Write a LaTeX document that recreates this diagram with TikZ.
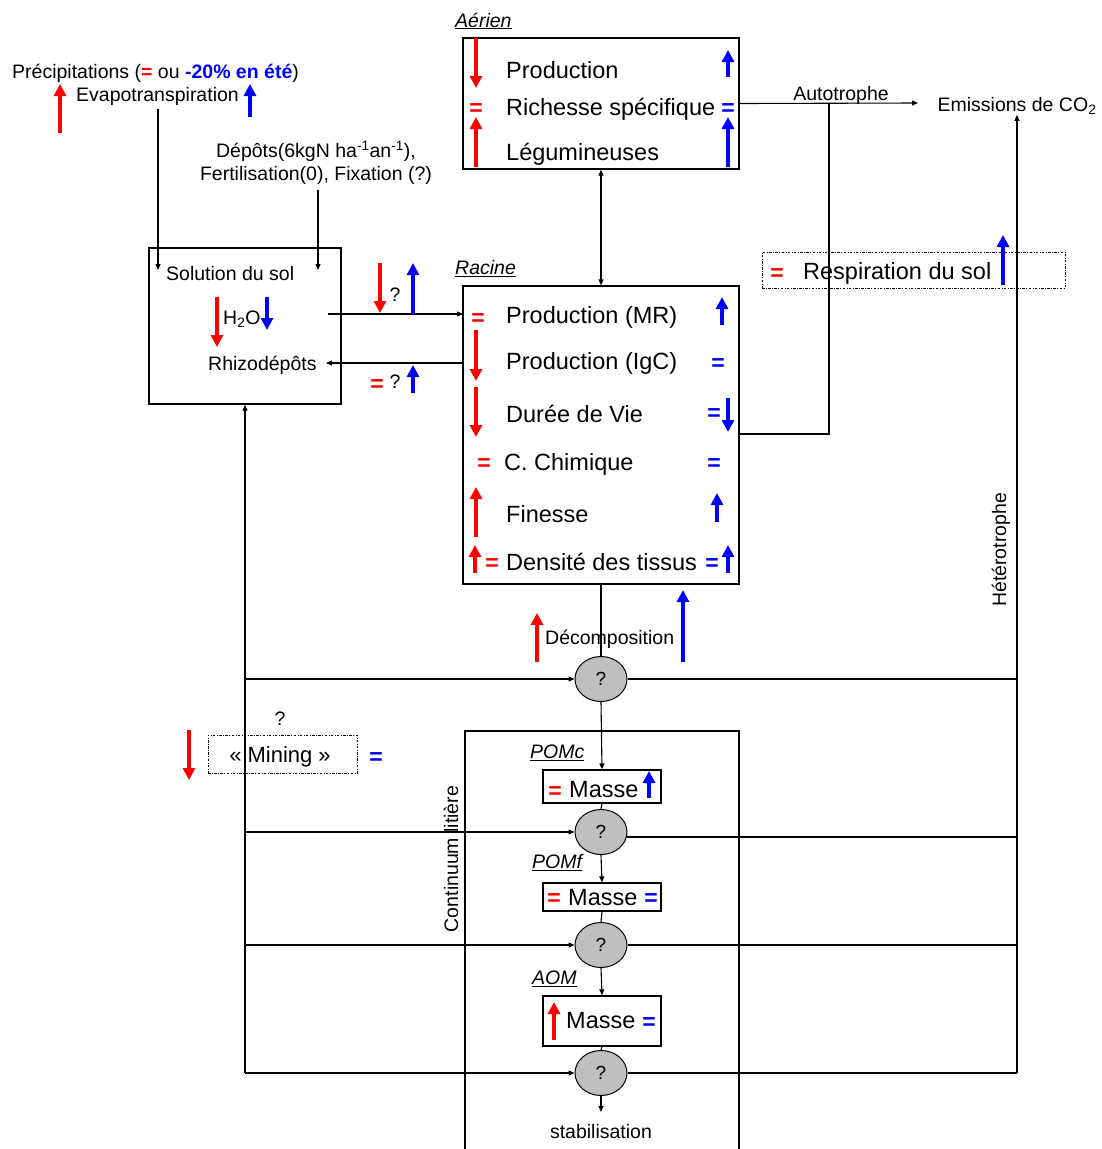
\documentclass[tikz,border=0pt]{standalone}
\usepackage{fontspec}
\setmainfont{Liberation Sans}
\usetikzlibrary{arrows.meta,shapes.geometric}
\newcommand\fsA{\fontsize{19.5}{23}\selectfont}
\newcommand\fsB{\fontsize{23.5}{27}\selectfont}
\newcommand\fsQ{\fontsize{19}{20}\selectfont}
\newcommand\fsEq{\fontsize{23}{23}\selectfont\bfseries}
\tikzset{
  mt/.style={inner sep=0pt, font=\fsA, yshift=-2pt},
  bt/.style={inner sep=0pt, font=\fsB, anchor=west, yshift=-2pt},
  lbl/.style={inner sep=0pt, font=\fsA\itshape, anchor=west, yshift=-1pt},
  ln/.style={line width=1.1pt},
  tipd/.style={ln, -{Triangle[length=6pt,width=5pt]}},
  dtip/.style={ln, {Triangle[length=6pt,width=5pt]}-{Triangle[length=6pt,width=5pt]}},
  bx/.style={draw, line width=1.3pt, inner sep=0pt},
  ddbox/.style={draw, line width=0.8pt, inner sep=0pt, dash pattern=on 2.5pt off 1.5pt on 0.7pt off 1.5pt},
  ra/.style={draw=red, line width=3.5pt, -{Triangle[length=12pt,width=12pt]}},
  ba/.style={draw=blue, line width=3.5pt, -{Triangle[length=12pt,width=12pt]}},
  eqr/.style={inner sep=0pt, text=red, font=\fsEq, yshift=-2pt},
  eqb/.style={inner sep=0pt, text=blue, font=\fsEq, yshift=-2pt},
  qc/.style={ellipse, draw, line width=1pt, fill=black!25, minimum width=52pt, minimum height=45pt, inner sep=0pt, font=\fsQ},
}
\begin{document}
\begin{tikzpicture}[x=1pt,y=-1pt]
\useasboundingbox (0,0) rectangle (1102,1149);
\fill[white] (0,0) rectangle (1102,1149);

% ---------- top left: climate ----------
\node[mt, anchor=west] (prec) at (12,71) {Précipitations (\textcolor{red}{\bfseries =} ou \textcolor{blue}{\bfseries -20\% en été})};
\node[mt, anchor=west] (evap) at (76,94) {Evapotranspiration};
\draw[ra] (60,133) -- (60,84);
\draw[ba] (250,117) -- (250,84);

\node[mt, align=center] (depots) at (316,161) {Dépôts(6kgN ha\textsuperscript{-1}an\textsuperscript{-1}),\\Fertilisation(0), Fixation (?)};

% ---------- Solution du sol ----------
\node[bx, minimum width=192pt, minimum height=156pt] (sol) at (245,326) {};
\node[mt, anchor=west] (soltxt) at (166,272) {Solution du sol};
\node[mt, anchor=west] (h2o) at (223,317) {H\textsubscript{2}O};
\draw[ra] (217,297) -- (217,347);
\draw[ba] (267,297) -- (267,330);
\node[mt, anchor=west] (rhizo) at (208,363) {Rhizodépôts};

\coordinate (evapS) at (158,109);
\coordinate (evapE) at (158,270);
\draw[tipd] (evapS) -- (evapE);
\coordinate (depS) at (318,190);
\coordinate (depE) at (318,270);
\draw[tipd] (depS) -- (depE);

% ---------- Aérien ----------
\node[lbl] (aerlbl) at (455,20) {\underline{Aérien}};
\node[bx, minimum width=276pt, minimum height=131pt] (aer) at (601,103.5) {};
\node[bt] (a1) at (506,68) {Production};
\node[bt] (a2) at (506,107) {Richesse spécifique};
\node[bt] (a3) at (506,152) {Légumineuses};
\draw[ra] (476,38) -- (476,88);
\node[eqr] (ae1) at (476,108) {=};
\draw[ra] (476,167) -- (476,117);
\draw[ba] (728,77) -- (728,50);
\node[eqb] (ae2) at (728,108) {=};
\draw[ba] (728,167) -- (728,117);

% ---------- Racine ----------
\node[lbl] (raclbl) at (455,268) {\underline{Racine}};
\node[bx, minimum width=276pt, minimum height=298pt] (rac) at (601,435) {};
\node[bt] (r1) at (506,315) {Production (MR)};
\node[bt] (r2) at (506,361) {Production (IgC)};
\node[bt] (r3) at (506,412) {Durée de Vie};
\node[bt] (r4) at (504,462) {C. Chimique};
\node[bt] (r5) at (506,512) {Finesse};
\node[bt] (r6) at (506,560) {Densité des tissus};
\node[eqr] (re1) at (478,318) {=};
\draw[ba] (722,325) -- (722,297);
\draw[ra] (476,330) -- (476,381);
\node[eqb] (re2) at (718,363) {=};
\draw[ra] (476,387) -- (476,437);
\node[eqb] (re3) at (714,413) {=};
\draw[ba] (728,398) -- (728,432);
\node[eqr] (re4) at (484,463) {=};
\node[eqb] (re5) at (714,463) {=};
\draw[ra] (476,537) -- (476,487);
\draw[ba] (717,522) -- (717,493);
\draw[ra] (475,573) -- (475,545);
\node[eqr] (re6) at (492,563) {=};
\node[eqb] (re7) at (712,563) {=};
\draw[ba] (728,573) -- (728,545);

% ---------- flows sol <-> racine ----------
\coordinate (solA) at (328,314);
\coordinate (racA) at (463,314);
\draw[tipd] (solA) -- (racA);
\coordinate (racB) at (463,363);
\coordinate (solB) at (326,363);
\draw[tipd] (racB) -- (solB);
\draw[ra] (380,263) -- (380,313);
\node[mt] (q1) at (395,293) {?};
\draw[ba] (413,314) -- (413,263);
\node[eqr] (se1) at (377,384) {=};
\node[mt] (q2) at (395,380) {?};
\draw[ba] (413,393) -- (413,365);

\draw[dtip] (aer.south) -- (rac.north);

% ---------- Autotrophe / emissions ----------
\coordinate (autoEnd) at (918,103);
\coordinate (autoJ) at (829,103);
\coordinate (racE) at (739,434);
\draw[tipd] (aer.east) -- (autoEnd);
\draw[ln] (racE) -| (autoJ);
\node[mt] (auto) at (841,93) {Autotrophe};
\node[mt] (emis) at (1017,104) {Emissions de CO\textsubscript{2}};

\node[ddbox, minimum width=303pt, minimum height=36pt] (resp) at (913.5,270) {};
\node[eqr] (rsp1) at (777,273) {=};
\node[bt] (resptxt) at (803,271) {Respiration du sol};
\draw[ba] (1003,285) -- (1003,235);

% ---------- decomposition ----------
\node[qc] (c1) at (601,679) {?};
\node[qc] (c2) at (601,832) {?};
\node[qc] (c3) at (601,945) {?};
\node[qc] (c4) at (601,1073) {?};

\draw[ln] (rac.south) -- (c1.north);
\draw[ra] (537,662) -- (537,613);
\node[mt, anchor=west] (decomp) at (545,637) {Décomposition};
\draw[ba] (683,662) -- (683,590);

% continuum box
\draw[line width=1.2pt] (465,1152) |- (739,731) -- (739,1152);
\node[mt, rotate=90] (cont) at (451,857) {Continuum litière};

\node[lbl] (pomc) at (530,752) {\underline{POMc}};
\node[bx, minimum width=118pt, minimum height=33pt] (m1) at (602,786.5) {};
\node[eqr] (m1e) at (555,791) {=};
\node[bt] (m1t) at (569,788) {Masse};
\draw[ba] (649,798) -- (649,771);

\node[lbl] (pomf) at (532,862) {\underline{POMf}};
\node[bx, minimum width=118pt, minimum height=28pt] (m2) at (602,897) {};
\node[eqr] (m2e) at (554,898) {=};
\node[bt] (m2t) at (568,896) {Masse};
\node[eqb] (m2b) at (651,898) {=};

\node[lbl] (aom) at (532,978) {\underline{AOM}};
\node[bx, minimum width=118pt, minimum height=50pt] (m3) at (602,1021) {};
\draw[ra] (554,1040) -- (554,1002);
\node[bt] (m3t) at (566,1019) {Masse};
\node[eqb] (m3b) at (649,1022) {=};

\draw[tipd] (c1.south) -- (m1.north);
\draw[ln] (m1.south) -- (c2.north);
\draw[tipd] (c2.south) -- (m2.north);
\draw[ln] (m2.south) -- (c3.north);
\draw[tipd] (c3.south) -- (m3.north);
\draw[ln] (m3.south) -- (c4.north);
\coordinate (stabE) at (601,1112);
\draw[tipd] (c4.south) -- (stabE);
\node[mt] (stab) at (601,1130) {stabilisation};

% left collector
\coordinate (L1) at (245,679);
\coordinate (L2) at (245,832);
\coordinate (L3) at (245,945);
\coordinate (L4) at (245,1073);
\draw[tipd] (L4) -- (sol.south);
\draw[tipd] (L1) -- (c1.west);
\draw[tipd] (L2) -- (c2.west);
\draw[tipd] (L3) -- (c3.west);
\draw[tipd] (L4) -- (c4.west);

% right collector (heterotrophe)
\coordinate (R1) at (1017,679);
\coordinate (R2) at (1017,837);
\coordinate (R3) at (1017,945);
\coordinate (R4) at (1017,1073);
\coordinate (c2r) at (627,837);
\draw[ln] (c1.east) -- (R1);
\draw[ln] (c2r) -- (R2);
\draw[ln] (c3.east) -- (R3);
\draw[ln] (c4.east) -- (R4);
\draw[tipd] (R4) -- (emis.south);
\node[mt, rotate=90] (het) at (1001,548) {Hétérotrophe};

% mining
\node[mt] (qm) at (280,717) {?};
\draw[ra] (189,730) -- (189,780);
\node[ddbox, minimum width=149pt, minimum height=38pt] (mining) at (282.5,754) {};
\node[inner sep=0pt, font=\fontsize{22}{24}\selectfont, yshift=-2pt] (mintxt) at (280,755) {« Mining »};
\node[eqb] (mineq) at (376,757) {=};
\end{tikzpicture}
\end{document}
